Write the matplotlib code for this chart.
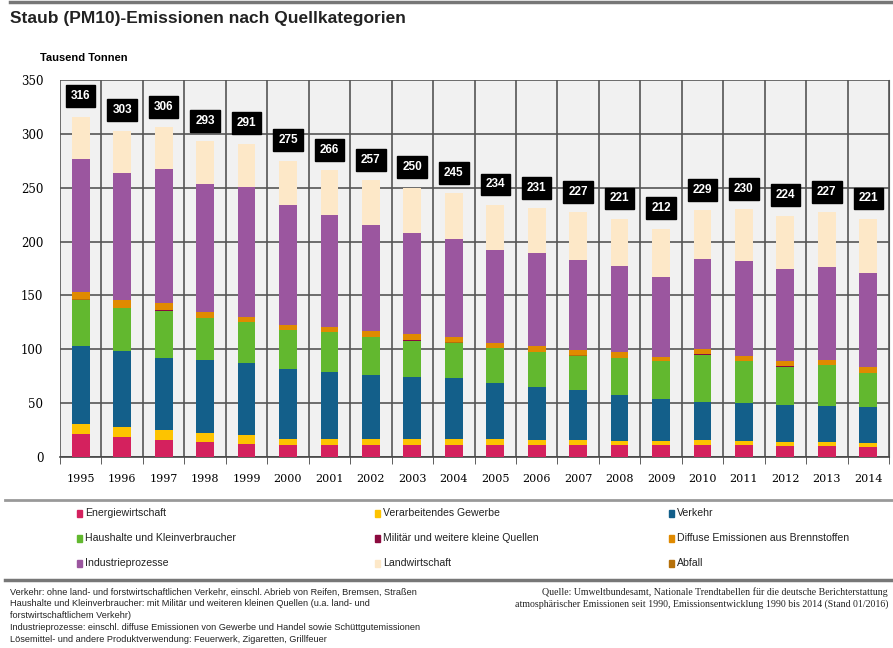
import numpy as np
import matplotlib.pyplot as plt

plt.rcParams['font.family'] = ['Liberation Sans', 'DejaVu Sans']

# Daten (Tausend Tonnen)
jahre = [str(j) for j in range(1995, 2015)]
energie = [21, 19, 16, 14, 12, 11, 11, 11.5, 11.5, 11.5, 11.5, 11, 11, 11, 11, 11, 11, 10, 10, 9.5]
gewerbe = [10, 9, 9, 8, 8, 6, 5.5, 5.5, 5.5, 5.5, 5, 5, 5, 4, 4, 4.5, 4, 4, 4, 3.5]
verkehr = [72, 70, 67, 68, 67, 65, 62.5, 59, 57, 56, 52.5, 49, 46, 43, 39, 36, 35, 34, 33.5, 33.5]
haushalte = [43, 40, 44, 39, 38, 36, 37, 35, 34, 33, 32, 32.5, 32, 34, 35, 43.5, 39, 36, 37.5, 31.5]
militaer = [0.2] * 20
abfall = [0.1] * 20
diffus = [6.7, 7.7, 6.7, 5.7, 4.7, 4.7, 4.7, 5.7, 5.7, 4.7, 4.7, 5.2, 4.7, 5.2, 3.7, 4.7, 4.7, 4.7, 4.7, 5.2]
industrie = [124, 118, 124, 118, 121, 111, 104, 98, 94, 91, 86, 86, 84, 79.5, 74, 84, 88, 86, 86, 87]
landwirtschaft = [39, 39, 39, 40, 40, 41, 41, 42, 42, 43, 42, 42, 44, 44, 45, 45, 48, 49, 51, 50.5]
gesamt = [316, 303, 306, 293, 291, 275, 266, 257, 250, 245, 234, 231, 227, 221, 212, 229, 230, 224, 227, 221]

farben = {
    "Energiewirtschaft": "#d4215e",
    "Verarbeitendes Gewerbe": "#fdc300",
    "Verkehr": "#135f8a",
    "Haushalte und Kleinverbraucher": "#62b82f",
    "Militär und weitere kleine Quellen": "#8b0a3e",
    "Diffuse Emissionen aus Brennstoffen": "#e08a00",
    "Industrieprozesse": "#9b569f",
    "Landwirtschaft": "#fde8c8",
    "Abfall": "#b5700a",
}
# Reihenfolge im Stapel (von unten)
stapel = [
    ("Energiewirtschaft", energie),
    ("Verarbeitendes Gewerbe", gewerbe),
    ("Verkehr", verkehr),
    ("Haushalte und Kleinverbraucher", haushalte),
    ("Militär und weitere kleine Quellen", militaer),
    ("Abfall", abfall),
    ("Diffuse Emissionen aus Brennstoffen", diffus),
    ("Industrieprozesse", industrie),
    ("Landwirtschaft", landwirtschaft),
]

fig = plt.figure(figsize=(8.93, 6.48), dpi=100)
ax = fig.add_axes([60/893, 1-457/648, 829/893, 377/648])
ax.set_facecolor("#f1f1f1")

x = np.arange(len(jahre))
unten = np.zeros(len(jahre))
for name, werte in stapel:
    ax.bar(x, werte, 0.43, bottom=unten, color=farben[name], lw=0, zorder=3)
    unten += np.array(werte)

for xi, g in zip(x, gesamt):
    ax.text(xi, g + 19, str(g), ha='center', va='center', color='white', fontsize=8.5,
            fontweight='bold', zorder=5,
            bbox=dict(boxstyle='square,pad=0.42', fc='black', ec='black'))

ax.set_xlim(-0.5, len(jahre) - 0.5)
ax.set_ylim(0, 350)
ax.set_yticks(range(0, 351, 50))
ax.set_xticks(x)
ax.set_xticklabels(jahre, fontsize=8)
ax.set_xticks(np.arange(-0.5, len(jahre), 1), minor=True)
ax.tick_params(axis='x', which='major', length=0, pad=12)
ax.tick_params(axis='x', which='minor', length=5, color='#444444')
ax.tick_params(axis='y', length=0, pad=12, labelsize=8.5)
for lab in ax.get_yticklabels() + ax.get_xticklabels():
    lab.set_fontfamily('DejaVu Serif')
ax.grid(axis='y', color='#555555', lw=1.2, zorder=1)
ax.grid(axis='x', which='minor', color='#555555', lw=1.2, zorder=1)
for s in ['top', 'left']:
    ax.spines[s].set_visible(False)
ax.spines['right'].set_color('#555555')
ax.spines['bottom'].set_color('#444444')
ax.spines['bottom'].set_linewidth(1.2)

# Titel und Beschriftungen
fig.add_artist(plt.Line2D([10/893, 1], [1-2/648]*2, color='#777777', lw=2.5))
fig.text(10/893, 1-19/648, "Staub (PM10)-Emissionen nach Quellkategorien", fontsize=12.5,
         fontweight='bold', color='#222222', va='center')
fig.text(40/893, 1-58/648, "Tausend Tonnen", fontsize=8, fontweight='bold', va='center')

# Legende
legende = list(farben.keys())
fig.add_artist(plt.Line2D([5/893, 1], [1-500/648]*2, color='#999999', lw=2))
spalten = [80, 378, 672]
zeilen = [513, 538, 563]
for i, name in enumerate(legende):
    xs = spalten[i % 3] / 893
    ys = 1 - zeilen[i // 3] / 648
    fig.patches.append(plt.Rectangle((xs - 3/893, ys - 3.5/648), 5/893, 7/648,
                                     transform=fig.transFigure, color=farben[name], figure=fig))
    fig.text(xs + 5/893, ys, name, fontsize=7.6, va='center', color='#222222')

fig.add_artist(plt.Line2D([5/893, 1], [1-580/648]*2, color='#777777', lw=2.5))
fussnoten = [
    "Verkehr: ohne land- und forstwirtschaftlichen Verkehr, einschl. Abrieb von Reifen, Bremsen, Straßen",
    "Haushalte und Kleinverbraucher: mit Militär und weiteren kleinen Quellen (u.a. land- und",
    "forstwirtschaftlichem Verkehr)",
    "Industrieprozesse: einschl. diffuse Emissionen von Gewerbe und Handel sowie Schüttgutemissionen",
    "Lösemittel- und andere Produktverwendung: Feuerwerk, Zigaretten, Grillfeuer",
]
for i, t in enumerate(fussnoten):
    fig.text(10/893, 1-(592 + i*11.8)/648, t, fontsize=6.6, va='center', color='#222222')
fig.text(888/893, 1-592/648, "Quelle: Umweltbundesamt, Nationale Trendtabellen für die deutsche Berichterstattung",
         fontsize=7.1, va='center', ha='right', family=['Liberation Serif'], color='#222222')
fig.text(888/893, 1-604/648, "atmosphärischer Emissionen seit 1990, Emissionsentwicklung 1990 bis 2014 (Stand 01/2016)",
         fontsize=7.1, va='center', ha='right', family=['Liberation Serif'], color='#222222')

fig.savefig("out.png", dpi=100)
